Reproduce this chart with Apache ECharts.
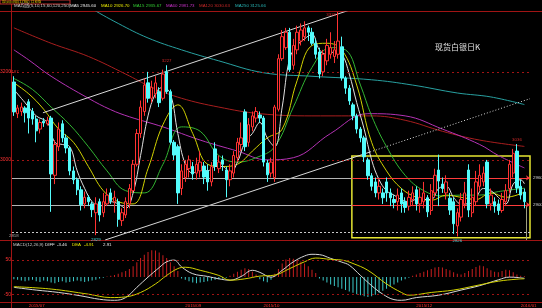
<!DOCTYPE html>
<html><head><meta charset="utf-8">
<script src="https://cdn.jsdelivr.net/npm/echarts@6/dist/echarts.min.js"></script>
<style>html,body{margin:0;padding:0;background:#000;}#c{width:542px;height:308px;}</style>
</head><body><div id="c"></div>
<script>
// ---------- DATA ----------
const N = 139; // slots on the time axis (last slot empty)
const categories = Array.from({length: N}, (_, i) => String(i));
const dateTicks = {4: '2015/07', 46: '2015/09', 67: '2015/10', 108: '2015/12', 136: '2016/01'};

// [open, close, low, high]
const candles = [
[3177,3109,3100,3190],[3105,3118,3095,3125],[3110,3120,3100,3130],[3118,3107,3085,3122],[3132,3095,3060,3138],
[3110,3093,3080,3118],[3093,3066,3040,3100],[3070,3085,3060,3092],[3088,3084,3075,3095],[3082,3090,3078,3098],
[3095,2968,2882,3100],[2965,3035,2945,3045],[3030,3070,3020,3085],[3082,3050,3040,3090],[3050,3027,3015,3058],
[3027,2975,2965,3030],[2975,2955,2945,2985],[2955,2932,2920,2960],[2932,2898,2885,2940],[2900,2915,2890,2928],
[2915,2905,2895,2920],[2900,2887,2870,2905],[2880,2900,2829,2915],[2905,2875,2860,2912],[2880,2905,2870,2925],
[2900,2920,2895,2935],[2925,2907,2900,2935],[2905,2915,2880,2930],[2905,2865,2848,2912],[2862,2880,2850,2890],
[2875,2905,2868,2915],[2900,2935,2890,2945],[2930,2990,2925,3000],[2990,3060,2985,3070],[3060,3120,3050,3135],
[3110,3170,3100,3185],[3175,3140,3130,3200],[3140,3165,3130,3180],[3150,3175,3140,3190],[3155,3130,3120,3165],
[3140,3195,3135,3205],[3200,3155,3150,3215],[3155,3040,3035,3160],[3040,3011,3000,3045],[3030,2925,2900,3035],
[2935,2975,2920,2990],[2960,2990,2950,3000],[2980,3000,2960,3010],[2985,2968,2955,2995],[2970,2990,2955,3005],
[2975,2995,2960,3020],[2986,2961,2945,2995],[2975,2950,2930,2990],[2950,2985,2940,2995],[3025,2986,2975,3040],
[2980,2995,2970,3010],[3000,2990,2975,3010],[2977,2955,2915,2985],[2955,2975,2940,2990],[2970,3010,2960,3020],
[3005,3040,2995,3050],[3035,3050,3020,3085],[3109,3030,3020,3115],[3040,3080,3030,3095],[3075,3100,3065,3110],
[3095,3110,3085,3120],[3102,3095,3085,3110],[3095,2995,2985,3100],[2993,2966,2950,3000],[2970,2995,2960,3005],
[2960,3120,2950,3125],[3115,3230,3110,3240],[3230,3280,3225,3295],[3255,3290,3250,3300],[3290,3205,3200,3300],
[3215,3260,3205,3275],[3250,3290,3240,3305],[3270,3295,3260,3310],[3280,3300,3270,3315],[3300,3290,3270,3305],
[3290,3265,3260,3300],[3265,3240,3230,3275],[3245,3195,3185,3255],[3200,3240,3190,3250],[3225,3260,3215,3275],
[3240,3255,3230,3290],[3235,3250,3220,3270],[3240,3270,3230,3336],[3257,3186,3180,3280],[3186,3163,3150,3190],
[3163,3134,3125,3170],[3125,3100,3090,3130],[3100,3070,3060,3105],[3070,3050,3040,3075],[3050,3007,2995,3055],
[3000,2964,2955,3005],[2964,2940,2930,2970],[2950,2925,2915,2960],[2925,2940,2910,2955],[2925,2914,2900,2935],
[2950,2925,2905,2960],[2925,2914,2895,2935],[2910,2903,2890,2920],[2905,2920,2885,2935],[2925,2900,2880,2935],
[2905,2892,2880,2915],[2895,2915,2885,2930],[2910,2925,2895,2940],[2932,2900,2885,2940],[2900,2915,2880,2935],
[2905,2925,2890,2950],[2914,2882,2870,2920],[2885,2930,2875,2945],[2925,2965,2915,2980],[2977,2952,2895,3012],
[2945,2935,2925,2960],[2925,2950,2910,2965],[2913,2886,2875,2925],[2905,2855,2832,2915],[2850,2880,2826,2890],
[2870,2910,2860,2925],[2900,2925,2890,2950],[2977,2886,2870,2990],[2880,2915,2870,2935],[2905,2950,2895,2975],
[2940,2965,2930,2990],[2950,2970,2940,2985],[2995,2900,2890,3000],[2900,2920,2885,2935],[2905,2895,2880,2915],
[2900,2885,2875,2910],[2885,2910,2880,2925],[2905,2930,2895,2945],[2935,2990,2925,3000],[2970,3015,2960,3025],
[3020,2936,2925,3036],[2940,2920,2910,2955],[2927,2905,2890,2935]
];

// moving averages: [slot, value]
const ma5 = [[0,3160],[3,3130],[6,3100],[9,3085],[11,3040],[13,3035],[15,3030],[17,2975],[19,2935],[21,2905],[23,2895],[26,2905],[28,2900],[30,2890],[32,2925],[34,3010],[36,3100],[38,3150],[40,3165],[42,3150],[44,3060],[46,2990],[48,2970],[50,2980],[52,2975],[54,2985],[56,2985],[58,2970],[60,2995],[62,3040],[64,3060],[66,3085],[68,3050],[70,3030],[72,3120],[74,3230],[76,3260],[78,3275],[80,3285],[82,3250],[84,3240],[86,3245],[88,3240],[90,3195],[92,3130],[94,3070],[96,3000],[98,2955],[100,2930],[102,2920],[104,2910],[106,2905],[108,2910],[110,2910],[112,2910],[114,2935],[116,2940],[118,2915],[120,2900],[122,2900],[124,2915],[126,2935],[128,2930],[130,2915],[132,2900],[134,2945],[136,2955],[137,2945.6]];
const ma10 = [[0,3175],[4,3150],[8,3115],[12,3070],[16,3040],[20,2985],[24,2930],[28,2905],[32,2900],[36,2980],[40,3080],[44,3125],[48,3060],[52,2990],[56,2985],[60,2990],[64,3020],[68,3050],[72,3070],[76,3180],[80,3260],[84,3265],[88,3250],[92,3170],[96,3040],[100,2975],[104,2935],[108,2915],[112,2908],[116,2920],[120,2915],[124,2910],[128,2925],[132,2915],[137,2926.7]];
const ma15 = [[0,3185],[5,3160],[10,3120],[15,3080],[20,3030],[25,2975],[30,2930],[35,2925],[40,2990],[45,3075],[50,3065],[55,3010],[60,2995],[65,3005],[70,3030],[75,3120],[80,3210],[85,3255],[89,3250],[93,3170],[96,3100],[100,3030],[105,2965],[110,2930],[115,2918],[120,2920],[125,2920],[130,2928],[137,2935.67]];
const ma60 = [[0,3250],[4,3227],[10,3190],[20,3140],[26,3114],[31,3098],[40,3075],[50,3045],[60,3020],[68,3000],[75,3005],[85,3060],[95,3105],[105,3100],[115,3070],[125,3035],[130,3010],[137,2981.73]];
const ma120 = [[0,3300],[10,3265],[20,3235],[30,3195],[37,3165],[45,3140],[55,3120],[66,3105],[80,3100],[96,3100],[105,3090],[115,3065],[125,3045],[137,3030.63]];
const ma250 = [[17,3365],[20,3348],[28,3310],[36,3277],[45,3250],[55,3225],[67,3198],[80,3190],[96,3182],[107,3170],[119,3152],[128,3143],[137,3125.66]];

// MACD panel
const macdHist = [
-6,-8,-10,-12,-10,-8,-12,-14,-10,-12,-16,-18,-14,-12,-16,-14,-12,-10,-12,-14,-12,-10,-8,
-4,-2,2,4,6,10,14,18,24,
32,44,56,66,74,79,78,72,64,56,44,32,18,
-4,-8,-12,-16,-18,-16,-14,-12,-10,-8,-6,-4,-2,
4,10,16,22,26,24,16,8,
-6,-12,-15,-8,
10,24,40,52,56,54,50,46,40,32,22,12,
-4,-10,-16,-22,-26,-30,-34,-38,-42,-46,-50,-53,
-56,-58,-56,-52,-46,-40,-34,-28,-22,-16,-10,-6,-2,
4,8,12,16,20,24,28,30,28,24,20,14,10,8,12,18,24,30,34,32,26,20,16,14,18,22,20,14,8,4,2.91];
const diff = [[0,-30],[6,-38],[12,-45],[18,-55],[23,-65],[27,-68],[30,-60],[33,-30],[36,0],[39,28],[41,45],[43,50],[45,30],[48,10],[52,2],[55,-5],[58,-9],[61,2],[64,20],[66,14],[69,0],[72,20],[75,45],[78,62],[80,67],[82,66],[85,55],[88,44],[90,35],[93,5],[96,-25],[99,-50],[102,-66],[104,-68],[108,-60],[114,-53],[120,-38],[125,-25],[130,-8],[133,0],[135,-1],[137,-3.46]];
const dea = [[0,-28],[10,-35],[20,-50],[26,-60],[30,-58],[34,-45],[38,-20],[41,5],[44,25],[46,29],[50,20],[55,5],[58,-9],[62,-5],[66,3],[70,6],[74,25],[78,45],[81,56],[85,52],[88,50],[91,40],[95,20],[100,-20],[104,-45],[106,-53],[112,-45],[118,-38],[124,-25],[130,-12],[135,-6],[137,-4.91]];

const priceTicks = [3200, 3000];
const macdTicks = [50, 0, -50];
const supportLevels = [2959, 2898];      // horizontal lines
const supportLabels = ['2960', '2900'];
const floorLevel = 2836;                 // dotted white line
const boxRange = {x0: 90.7, x1: 138.5, top: 3009, bottom: 2823};
const channelUpper = [[7.8, 3107], [91, 3343]];
const channelLower = [[24.5, 2818], [95.6, 3018]];
const channelLowerExt = [[95.6, 3018], [138.5, 3139]];
const annotations = [
  {i: 0, p: 3190, text: '3187', color: '#ff3232', pos: 'top'},
  {i: 41, p: 3215, text: '3227', color: '#ff3232', pos: 'top'},
  {i: 87, p: 3330, text: '3336', color: '#ff3232', pos: 'left'},
  {i: 22, p: 2829, text: '2829', color: '#54fcfc', pos: 'bottom'},
  {i: 119, p: 2826, text: '2826', color: '#54fcfc', pos: 'bottom'},
  {i: 135, p: 3036, text: '3036', color: '#ff3232', pos: 'top'},
  {i: 0, p: 2818, text: '2818', color: '#c8c8c8', pos: 'top'}
];
const legendItems = [
  {t: 'MA均线(5,10,15,60,120,250)', c: '#c8c8c8'},
  {t: 'MA5 2945.60', c: '#e8e8e8'},
  {t: 'MA10 2926.70', c: '#e6e600'},
  {t: 'MA15 2935.67', c: '#32c832'},
  {t: 'MA60 2981.73', c: '#c832c8'},
  {t: 'MA120 3030.63', c: '#c82828'},
  {t: 'MA250 3125.66', c: '#28b4b4'}
];
const macdItems = [
  {t: 'MACD(12,26,9)', c: '#c8c8c8'}, {t: 'DIFF', c: '#e8e8e8'}, {t: '-3.46', c: '#e8e8e8'},
  {t: 'DEA', c: '#e6e600'}, {t: '-4.91', c: '#e6e600'}, {t: '2.91', c: '#e8e8e8'}
];
const title = '现货白银日K';

// ---------- CHART ----------
const RED = '#ff3232', CYAN = '#54fcfc', GRIDRED = '#a01414';
const chart = echarts.init(document.getElementById('c'));
const font = 'Liberation Sans, Noto Sans CJK SC, sans-serif';
const FS = 4.4;
const maLine = (name, data, color) => ({
  type: 'line', name, data, xAxisIndex: 1, yAxisIndex: 0, showSymbol: false, smooth: 0.4,
  lineStyle: {color, width: 1}, silent: true, z: 3
});
const legendX = [14, 70, 101, 133, 166, 199, 235];
const macdX = [13, 45, 57, 72, 84, 103];

chart.setOption({
  animation: false,
  backgroundColor: '#000',
  textStyle: {fontFamily: font},
  grid: [
    {left: 12, right: 12, top: 12, height: 228},
    {left: 12, right: 12, top: 241, height: 61}
  ],
  xAxis: [
    {type: 'category', gridIndex: 0, data: categories, boundaryGap: true, show: false},
    {type: 'value', gridIndex: 0, min: -0.5, max: N - 0.5, show: false},
    {type: 'category', gridIndex: 1, data: categories, boundaryGap: true,
      axisLine: {show: false}, axisTick: {show: false}, splitLine: {show: false},
      axisLabel: {interval: (i) => dateTicks[i] !== undefined, formatter: (v, i) => dateTicks[i] || '',
        color: RED, fontSize: FS, margin: 1.5, align: 'left'}},
    {type: 'value', gridIndex: 1, min: -0.5, max: N - 0.5, show: false}
  ],
  yAxis: [
    {type: 'value', gridIndex: 0, min: 2818, max: 3336, show: false},
    {type: 'value', gridIndex: 1, min: -73, max: 106, show: false}
  ],
  series: [
    {type: 'candlestick', xAxisIndex: 0, yAxisIndex: 0, data: candles, barWidth: '78%', z: 5,
      itemStyle: {color: '#000', color0: CYAN, borderColor: RED, borderColor0: CYAN, borderWidth: 1},
      markLine: {silent: true, symbol: 'none',
        lineStyle: {color: GRIDRED, type: [2, 3], width: 1},
        label: {position: 'start', color: RED, fontSize: 5, distance: 1, formatter: (p) => String(p.value)},
        data: priceTicks.map(v => ({yAxis: v}))}
    },
    maLine('MA250', ma250, '#28a0a0'),
    maLine('MA120', ma120, '#a81e1e'),
    maLine('MA60', ma60, '#b432b4'),
    maLine('MA15', ma15, '#32b432'),
    maLine('MA10', ma10, '#d2d200'),
    maLine('MA5', ma5, '#e0e0e0'),
    {type: 'line', xAxisIndex: 1, yAxisIndex: 0, data: channelUpper, showSymbol: false, silent: true,
      lineStyle: {color: '#d8d8d8', width: 1}, z: 4},
    {type: 'line', xAxisIndex: 1, yAxisIndex: 0, data: channelLower, showSymbol: false, silent: true,
      lineStyle: {color: '#d8d8d8', width: 1}, z: 4},
    {type: 'line', xAxisIndex: 1, yAxisIndex: 0, data: channelLowerExt, showSymbol: false, silent: true,
      lineStyle: {color: '#d8d8d8', width: 1, type: [1, 2]}, z: 4,
      markLine: {silent: true, symbol: 'none', label: {show: false},
        data: [
          [{coord: [-0.5, supportLevels[0]]}, {coord: [boxRange.x0, supportLevels[0]]}],
          [{coord: [-0.5, supportLevels[1]]}, {coord: [boxRange.x0, supportLevels[1]]}],
          [{coord: [-0.5, floorLevel], lineStyle: {type: [2, 2], color: '#c8c8c8'}}, {coord: [N - 0.5, floorLevel]}],
          [{coord: [137.4, supportLevels[1]], lineStyle: {color: '#a0a080'}}, {coord: [137.4, 2818]}]
        ],
        lineStyle: {color: '#b4b4b4', width: 1, type: 'solid'}}
    },
    {type: 'line', xAxisIndex: 1, yAxisIndex: 0, data: [], silent: true, z: 6,
      markArea: {silent: true, itemStyle: {color: 'rgba(0,0,0,0)', borderColor: '#e6e632', borderWidth: 1.5},
        data: [[{coord: [boxRange.x0, boxRange.top]}, {coord: [boxRange.x1, boxRange.bottom]}]]},
      markLine: {silent: true, symbol: ['none', 'arrow'], symbolSize: 4,
        lineStyle: {color: '#ff3c3c', width: 1.2, type: 'solid'},
        label: {position: 'end', color: '#d0d0d0', fontSize: FS, distance: 3},
        data: supportLevels.map((v, k) => [
          {coord: [boxRange.x0, v], label: {formatter: supportLabels[k]}},
          {coord: [boxRange.x1, v]}])}
    },
    {type: 'scatter', xAxisIndex: 1, yAxisIndex: 0, symbolSize: 0, silent: true, z: 7,
      data: annotations.map(a => ({value: [a.i, a.p],
        label: {show: true, formatter: a.text, color: a.color, fontSize: FS, position: a.pos, distance: 2}}))},
    {type: 'bar', xAxisIndex: 2, yAxisIndex: 1, barWidth: 1, silent: true,
      data: macdHist.map(v => ({value: v, itemStyle: {color: v >= 0 ? '#c81e1e' : '#3cc8c8'}})),
      markLine: {silent: true, symbol: 'none', lineStyle: {color: GRIDRED, type: [2, 3], width: 1},
        label: {position: 'start', color: RED, fontSize: 5, distance: 1, formatter: (p) => String(p.value)},
        data: macdTicks.map(v => (v === 0 ? {yAxis: v, lineStyle: {opacity: 0}} : {yAxis: v}))}
    },
    {type: 'line', xAxisIndex: 3, yAxisIndex: 1, data: diff, showSymbol: false, smooth: 0.4, silent: true,
      lineStyle: {color: '#d8d8d8', width: 1}},
    {type: 'line', xAxisIndex: 3, yAxisIndex: 1, data: dea, showSymbol: false, smooth: 0.4, silent: true,
      lineStyle: {color: '#d2d200', width: 1}}
  ],
  graphic: [
    {type: 'line', shape: {x1: 0, y1: 11.5, x2: 542, y2: 11.5}, style: {stroke: GRIDRED, lineWidth: 1}, silent: true},
    {type: 'line', shape: {x1: 11.5, y1: 0, x2: 11.5, y2: 308}, style: {stroke: GRIDRED, lineWidth: 1}, silent: true},
    {type: 'line', shape: {x1: 0, y1: 240.5, x2: 542, y2: 240.5}, style: {stroke: GRIDRED, lineWidth: 1}, silent: true},
    {type: 'line', shape: {x1: 0, y1: 302.5, x2: 542, y2: 302.5}, style: {stroke: GRIDRED, lineWidth: 1}, silent: true},
    {type: 'rect', shape: {x: 0, y: 0, width: 70, height: 4}, style: {fill: '#000', stroke: '#c03030', lineWidth: 1}, silent: true},
    {type: 'text', x: 2, y: 0, style: {text: '现货白银(1786) 日K线', fill: '#e6c800', fontSize: 4, fontFamily: font}, silent: true},
    {type: 'text', left: 435, top: 43, style: {text: title, fill: '#e0e0e0', fontSize: 8, fontFamily: 'Noto Sans CJK SC'}, silent: true}
  ].concat(legendItems.map((it, k) => ({type: 'text', x: legendX[k], y: 4,
      style: {text: it.t, fill: it.c, fontSize: FS, fontFamily: font}, silent: true})))
   .concat(macdItems.map((it, k) => ({type: 'text', x: macdX[k], y: 243,
      style: {text: it.t, fill: it.c, fontSize: FS, fontFamily: font}, silent: true})))
});
</script></body></html>
